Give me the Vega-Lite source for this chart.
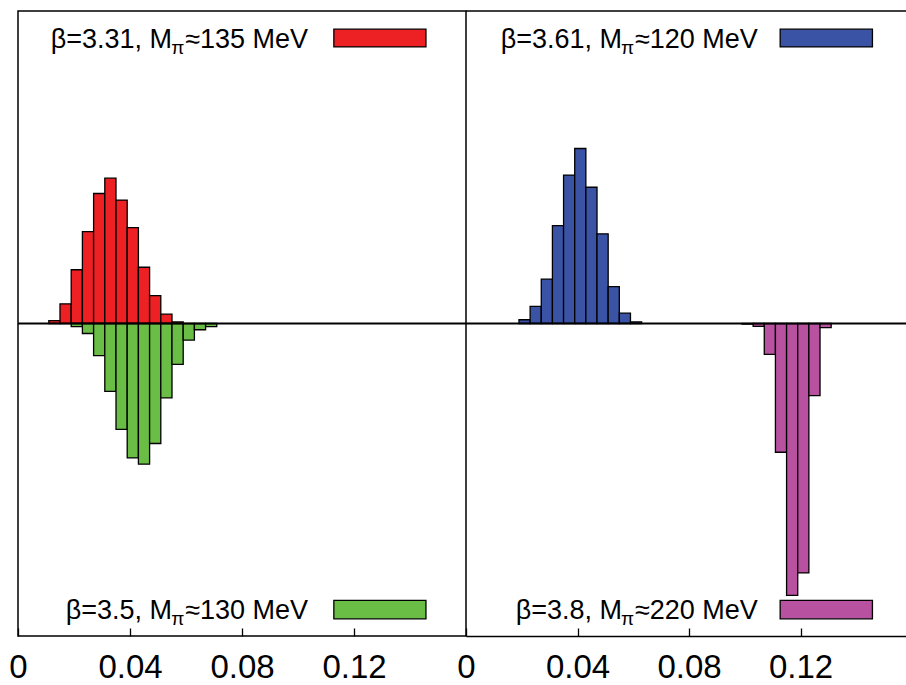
{
  "$schema": "https://vega.github.io/schema/vega-lite/v6.json",
  "padding": {"left": 8, "top": 10, "right": 0, "bottom": 0},
  "background": "white",
  "bounds": "flush",
  "config": {
    "view": {"stroke": "black", "strokeWidth": 1.5},
    "font": "Liberation Sans",
    "text": {"font": "Liberation Sans"}
  },
  "spacing": 0,
  "datasets": {
    "bars": [
      {"panel": "L", "series": "b331", "lo": 0.011, "hi": 0.015, "v": 0.009},
      {"panel": "L", "series": "b331", "lo": 0.015, "hi": 0.019, "v": 0.063},
      {"panel": "L", "series": "b331", "lo": 0.019, "hi": 0.023, "v": 0.172},
      {"panel": "L", "series": "b331", "lo": 0.023, "hi": 0.027, "v": 0.294},
      {"panel": "L", "series": "b331", "lo": 0.027, "hi": 0.031, "v": 0.416},
      {"panel": "L", "series": "b331", "lo": 0.031, "hi": 0.035, "v": 0.465},
      {"panel": "L", "series": "b331", "lo": 0.035, "hi": 0.039, "v": 0.395},
      {"panel": "L", "series": "b331", "lo": 0.039, "hi": 0.043, "v": 0.307},
      {"panel": "L", "series": "b331", "lo": 0.043, "hi": 0.047, "v": 0.180},
      {"panel": "L", "series": "b331", "lo": 0.047, "hi": 0.051, "v": 0.089},
      {"panel": "L", "series": "b331", "lo": 0.051, "hi": 0.055, "v": 0.030},
      {"panel": "L", "series": "b331", "lo": 0.055, "hi": 0.059, "v": 0.005},
      {"panel": "L", "series": "b35", "lo": 0.019, "hi": 0.023, "v": -0.010},
      {"panel": "L", "series": "b35", "lo": 0.023, "hi": 0.027, "v": -0.032},
      {"panel": "L", "series": "b35", "lo": 0.027, "hi": 0.031, "v": -0.103},
      {"panel": "L", "series": "b35", "lo": 0.031, "hi": 0.035, "v": -0.217},
      {"panel": "L", "series": "b35", "lo": 0.035, "hi": 0.039, "v": -0.339},
      {"panel": "L", "series": "b35", "lo": 0.039, "hi": 0.043, "v": -0.430},
      {"panel": "L", "series": "b35", "lo": 0.043, "hi": 0.047, "v": -0.450},
      {"panel": "L", "series": "b35", "lo": 0.047, "hi": 0.051, "v": -0.384},
      {"panel": "L", "series": "b35", "lo": 0.051, "hi": 0.055, "v": -0.238},
      {"panel": "L", "series": "b35", "lo": 0.055, "hi": 0.059, "v": -0.131},
      {"panel": "L", "series": "b35", "lo": 0.059, "hi": 0.063, "v": -0.053},
      {"panel": "L", "series": "b35", "lo": 0.063, "hi": 0.067, "v": -0.020},
      {"panel": "L", "series": "b35", "lo": 0.067, "hi": 0.071, "v": -0.010},
      {"panel": "R", "series": "b361", "lo": 0.019, "hi": 0.023, "v": 0.012},
      {"panel": "R", "series": "b361", "lo": 0.023, "hi": 0.027, "v": 0.055},
      {"panel": "R", "series": "b361", "lo": 0.027, "hi": 0.031, "v": 0.142},
      {"panel": "R", "series": "b361", "lo": 0.031, "hi": 0.035, "v": 0.313},
      {"panel": "R", "series": "b361", "lo": 0.035, "hi": 0.039, "v": 0.475},
      {"panel": "R", "series": "b361", "lo": 0.039, "hi": 0.043, "v": 0.560},
      {"panel": "R", "series": "b361", "lo": 0.043, "hi": 0.047, "v": 0.436},
      {"panel": "R", "series": "b361", "lo": 0.047, "hi": 0.051, "v": 0.287},
      {"panel": "R", "series": "b361", "lo": 0.051, "hi": 0.055, "v": 0.118},
      {"panel": "R", "series": "b361", "lo": 0.055, "hi": 0.059, "v": 0.033},
      {"panel": "R", "series": "b361", "lo": 0.059, "hi": 0.063, "v": 0.005},
      {"panel": "R", "series": "b38", "lo": 0.099, "hi": 0.103, "v": -0.002},
      {"panel": "R", "series": "b38", "lo": 0.103, "hi": 0.107, "v": -0.009},
      {"panel": "R", "series": "b38", "lo": 0.107, "hi": 0.111, "v": -0.099},
      {"panel": "R", "series": "b38", "lo": 0.111, "hi": 0.115, "v": -0.412},
      {"panel": "R", "series": "b38", "lo": 0.115, "hi": 0.119, "v": -0.870},
      {"panel": "R", "series": "b38", "lo": 0.119, "hi": 0.123, "v": -0.798},
      {"panel": "R", "series": "b38", "lo": 0.123, "hi": 0.127, "v": -0.231},
      {"panel": "R", "series": "b38", "lo": 0.127, "hi": 0.131, "v": -0.013}
    ]
  },
  "hconcat": [
    {
      "width": 448,
      "height": 625,
      "layer": [
        {
          "data": {"name": "bars"},
          "transform": [{"filter": "datum.panel === 'L'"}],
          "mark": {"type": "bar", "stroke": "black", "strokeWidth": 1.3, "opacity": 1},
          "encoding": {
            "x": {"field": "lo", "type": "quantitative",
                  "scale": {"domain": [0, 0.16], "nice": false, "zero": false},
                  "axis": {"values": [0, 0.04, 0.08, 0.12], "format": ".2~f", "title": null, "grid": false,
                           "domain": false, "tickSize": -8, "tickColor": "black", "tickWidth": 1.3,
                           "labelFontSize": 33, "labelFont": "Liberation Sans", "labelColor": "black",
                           "labelPadding": 23, "labelOverlap": false, "labelFlush": false}},
            "x2": {"field": "hi"},
            "y": {"field": "v", "type": "quantitative", "scale": {"domain": [-1, 1], "nice": false}, "axis": null},
            "y2": {"datum": 0},
            "color": {"field": "series", "type": "nominal",
                      "scale": {"domain": ["b331", "b35", "b361", "b38"], "range": ["#ed2024", "#6abd45", "#3a53a4", "#b8519f"]},
                      "legend": null}
          }
        },
        {
          "data": {"values": [{}]},
          "mark": {"type": "rule", "color": "black", "strokeWidth": 2},
          "encoding": {"y": {"datum": 0}}
        },
        {
          "data": {"values": [{}]},
          "mark": {"type": "rect", "fill": "#ed2024", "stroke": "black", "strokeWidth": 1.3},
          "encoding": {"x": {"datum": 0.1128}, "x2": {"datum": 0.1457}, "y": {"datum": 0.942}, "y2": {"datum": 0.885}}
        },
        {
          "data": {"values": [{}]},
          "mark": {"type": "rect", "fill": "#6abd45", "stroke": "black", "strokeWidth": 1.3},
          "encoding": {"x": {"datum": 0.1128}, "x2": {"datum": 0.1457}, "y": {"datum": -0.886}, "y2": {"datum": -0.945}}
        },
        {
          "data": {"values": [{}]},
          "mark": {"type": "text", "align": "right", "baseline": "alphabetic", "fontSize": 27, "color": "black"},
          "encoding": {"x": {"datum": 0.1036}, "y": {"datum": 0.883}, "text": {"value": "≈135 MeV"}}
        },
        {
          "data": {"values": [{}]},
          "mark": {"type": "text", "align": "right", "baseline": "alphabetic", "fontSize": 19, "color": "black"},
          "encoding": {"x": {"datum": 0.0594}, "y": {"datum": 0.862}, "text": {"value": "π"}}
        },
        {
          "data": {"values": [{}]},
          "mark": {"type": "text", "align": "right", "baseline": "alphabetic", "fontSize": 27, "color": "black"},
          "encoding": {"x": {"datum": 0.0550}, "y": {"datum": 0.883}, "text": {"value": "β=3.31, M"}}
        },
        {
          "data": {"values": [{}]},
          "mark": {"type": "text", "align": "right", "baseline": "alphabetic", "fontSize": 27, "color": "black"},
          "encoding": {"x": {"datum": 0.1036}, "y": {"datum": -0.945}, "text": {"value": "≈130 MeV"}}
        },
        {
          "data": {"values": [{}]},
          "mark": {"type": "text", "align": "right", "baseline": "alphabetic", "fontSize": 19, "color": "black"},
          "encoding": {"x": {"datum": 0.0594}, "y": {"datum": -0.966}, "text": {"value": "π"}}
        },
        {
          "data": {"values": [{}]},
          "mark": {"type": "text", "align": "right", "baseline": "alphabetic", "fontSize": 27, "color": "black"},
          "encoding": {"x": {"datum": 0.0550}, "y": {"datum": -0.945}, "text": {"value": "β=3.5, M"}}
        }
      ]
    },
    {
      "width": 441,
      "height": 625,
      "view": {"stroke": null},
      "layer": [
        {
          "data": {"name": "bars"},
          "transform": [{"filter": "datum.panel === 'R'"}],
          "mark": {"type": "bar", "stroke": "black", "strokeWidth": 1.3, "opacity": 1},
          "encoding": {
            "x": {"field": "lo", "type": "quantitative",
                  "scale": {"domain": [0, 0.1582], "nice": false, "zero": false},
                  "axis": {"values": [0, 0.04, 0.08, 0.12], "format": ".2~f", "title": null, "grid": false,
                           "domain": true, "domainColor": "black", "domainWidth": 1.5,
                           "tickSize": -8, "tickColor": "black", "tickWidth": 1.3,
                           "labelFontSize": 33, "labelFont": "Liberation Sans", "labelColor": "black",
                           "labelPadding": 23, "labelOverlap": false, "labelFlush": false}},
            "x2": {"field": "hi"},
            "y": {"field": "v", "type": "quantitative", "scale": {"domain": [-1, 1], "nice": false}, "axis": null},
            "y2": {"datum": 0},
            "color": {"field": "series", "type": "nominal",
                      "scale": {"domain": ["b331", "b35", "b361", "b38"], "range": ["#ed2024", "#6abd45", "#3a53a4", "#b8519f"]},
                      "legend": null}
          }
        },
        {
          "data": {"values": [{}]},
          "mark": {"type": "rule", "color": "black", "strokeWidth": 2},
          "encoding": {"y": {"datum": 0}}
        },
        {
          "data": {"values": [{}]},
          "mark": {"type": "rule", "color": "black", "strokeWidth": 1.5},
          "encoding": {"y": {"datum": 1}}
        },
        {
          "data": {"values": [{}]},
          "mark": {"type": "rect", "fill": "#3a53a4", "stroke": "black", "strokeWidth": 1.3},
          "encoding": {"x": {"datum": 0.1127}, "x2": {"datum": 0.1458}, "y": {"datum": 0.942}, "y2": {"datum": 0.885}}
        },
        {
          "data": {"values": [{}]},
          "mark": {"type": "rect", "fill": "#b8519f", "stroke": "black", "strokeWidth": 1.3},
          "encoding": {"x": {"datum": 0.1127}, "x2": {"datum": 0.1458}, "y": {"datum": -0.886}, "y2": {"datum": -0.945}}
        },
        {
          "data": {"values": [{}]},
          "mark": {"type": "text", "align": "right", "baseline": "alphabetic", "fontSize": 27, "color": "black"},
          "encoding": {"x": {"datum": 0.1047}, "y": {"datum": 0.883}, "text": {"value": "≈120 MeV"}}
        },
        {
          "data": {"values": [{}]},
          "mark": {"type": "text", "align": "right", "baseline": "alphabetic", "fontSize": 19, "color": "black"},
          "encoding": {"x": {"datum": 0.0603}, "y": {"datum": 0.862}, "text": {"value": "π"}}
        },
        {
          "data": {"values": [{}]},
          "mark": {"type": "text", "align": "right", "baseline": "alphabetic", "fontSize": 27, "color": "black"},
          "encoding": {"x": {"datum": 0.0560}, "y": {"datum": 0.883}, "text": {"value": "β=3.61, M"}}
        },
        {
          "data": {"values": [{}]},
          "mark": {"type": "text", "align": "right", "baseline": "alphabetic", "fontSize": 27, "color": "black"},
          "encoding": {"x": {"datum": 0.1047}, "y": {"datum": -0.945}, "text": {"value": "≈220 MeV"}}
        },
        {
          "data": {"values": [{}]},
          "mark": {"type": "text", "align": "right", "baseline": "alphabetic", "fontSize": 19, "color": "black"},
          "encoding": {"x": {"datum": 0.0603}, "y": {"datum": -0.966}, "text": {"value": "π"}}
        },
        {
          "data": {"values": [{}]},
          "mark": {"type": "text", "align": "right", "baseline": "alphabetic", "fontSize": 27, "color": "black"},
          "encoding": {"x": {"datum": 0.0560}, "y": {"datum": -0.945}, "text": {"value": "β=3.8, M"}}
        }
      ]
    }
  ]
}
